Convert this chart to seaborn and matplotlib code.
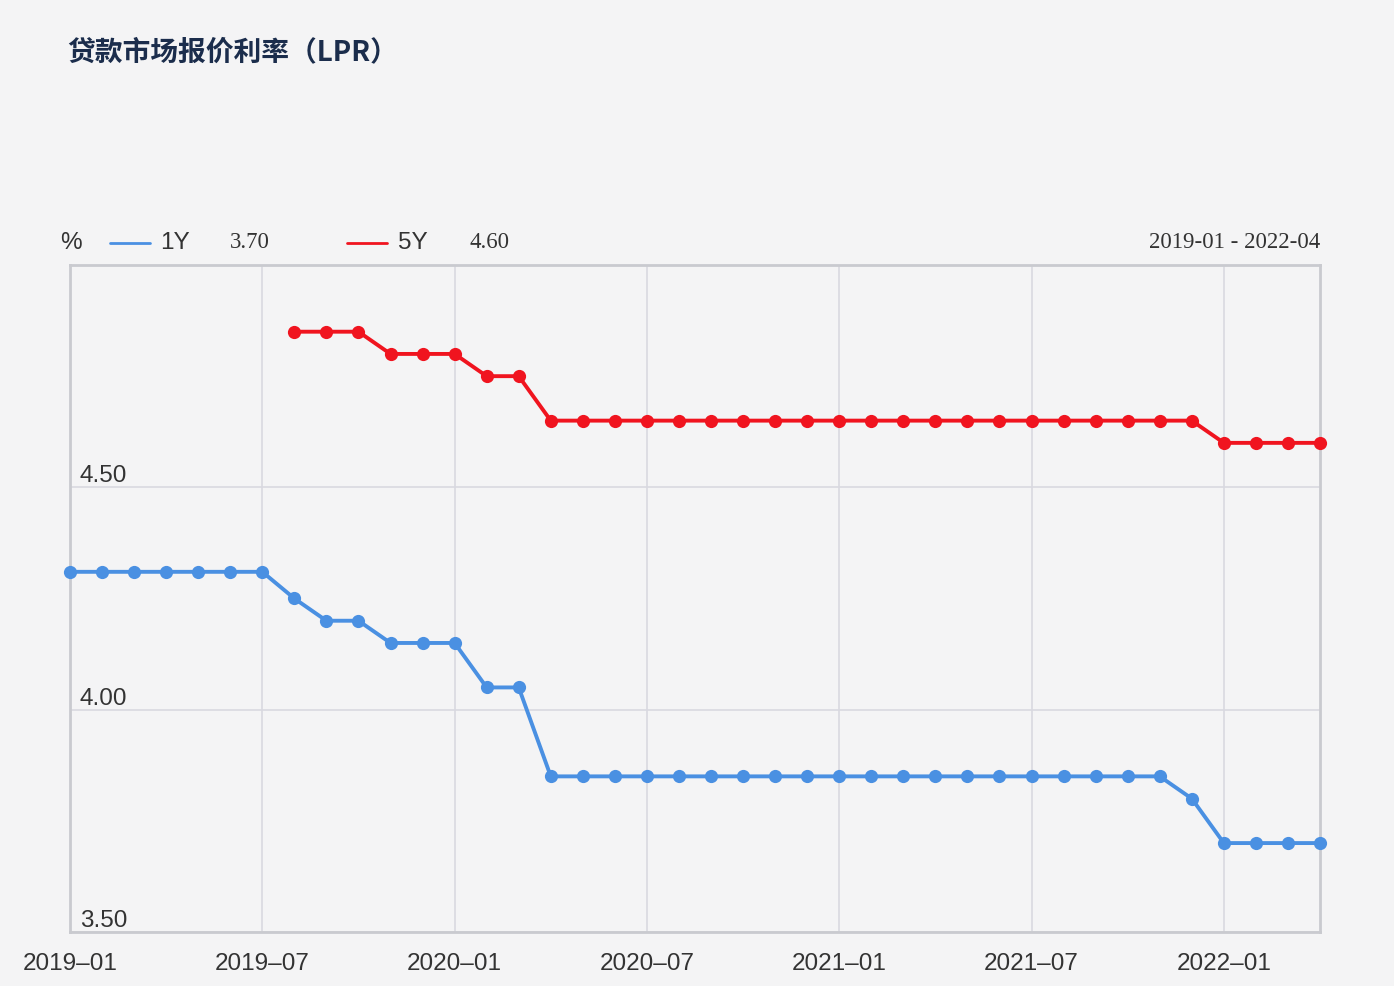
import numpy as np
import pandas as pd
import matplotlib
matplotlib.use('Agg')
import matplotlib.pyplot as plt
import seaborn as sns
from matplotlib.lines import Line2D

# monthly LPR quotes, 2019-01 .. 2022-04
months = list(pd.period_range('2019-01', '2022-04', freq='M').strftime('%Y-%m'))
lpr_1y = [4.31] * 7 + [4.25, 4.20, 4.20, 4.15, 4.15, 4.15, 4.05, 4.05] + [3.85] * 20 + [3.80] + [3.70] * 4
lpr_5y = [np.nan] * 7 + [4.85, 4.85, 4.85, 4.80, 4.80, 4.80, 4.75, 4.75] + [4.65] * 21 + [4.60] * 4
series_names = ['1Y', '5Y']
colors = ['#4a90e2', '#f0141f']
xtick_every = 6
yticks = [3.5, 4.0, 4.5]

df = pd.DataFrame({'month': months, 'idx': range(len(months)), '1Y': lpr_1y, '5Y': lpr_5y})
long_df = df.melt(id_vars=['month', 'idx'], value_vars=series_names, var_name='term', value_name='rate').dropna()

sns.set_style('white')
plt.rcParams['font.family'] = ['Liberation Sans', 'Noto Sans CJK SC', 'DejaVu Sans']

bg = '#f4f4f5'
fig = plt.figure(figsize=(13.94, 9.86), dpi=100, facecolor=bg)
ax = fig.add_axes([70 / 1394, 1 - 932 / 986, 1250 / 1394, 667 / 986])
ax.set_facecolor(bg)

sns.lineplot(data=long_df, x='idx', y='rate', hue='term', hue_order=series_names,
             palette=colors, marker='o', markersize=9.5, markeredgewidth=0,
             linewidth=2.8, legend=False, ax=ax, clip_on=False, zorder=3)

ax.set_xlim(0, len(months) - 1)
ax.set_ylim(3.5, 5.0)
xt = list(range(0, len(months), xtick_every))
ax.set_xticks(xt)
ax.set_xticklabels([months[i].replace('-', '\u2013') for i in xt])
ax.set_yticks(yticks)
ax.set_yticklabels(['%.2f' % v for v in yticks])
ax.set_xlabel('')
ax.set_ylabel('')

ax.grid(True, color='#d9d9e0', linewidth=1.2)
ax.set_axisbelow(True)
for s in ax.spines.values():
    s.set_color('#c9cacf')
    s.set_linewidth(2)

ax.tick_params(axis='x', length=0, pad=15, labelsize=17.5, labelcolor='#333333')
ax.tick_params(axis='y', length=0, pad=-7, labelsize=17.5, labelcolor='#333333')
for lbl in ax.get_yticklabels():
    lbl.set_horizontalalignment('left')
    lbl.set_verticalalignment('bottom')

# title
fig.text(67 / 1394, 1 - 52 / 986, '贷款市场报价利率（LPR）', fontsize=20, fontweight='heavy',
         color='#1b2d4c', va='center', ha='left', family=['Noto Sans CJK SC', 'DejaVu Sans'])

# legend row
ly = 1 - 243 / 986
fig.text(60 / 1394, ly, '%', fontsize=17.5, color='#333333', va='center', ha='left')
leg_x = [(110, 160, 230), (347, 398, 470)]
last_vals = [lpr_1y[-1], lpr_5y[-1]]
for (x0, xt0, xv), name, c, v in zip(leg_x, series_names, colors, last_vals):
    fig.add_artist(Line2D([x0 / 1394, (x0 + 40) / 1394], [ly, ly], color=c, linewidth=2))
    fig.text(xt0 / 1394, ly, name, fontsize=17.5, color='#333333', va='center', ha='left')
    fig.text(xv / 1394, ly, '%.2f' % v, fontsize=16.5, color='#333333', va='center', ha='left',
             family='Liberation Serif')
fig.text(1320 / 1394, ly, '%s - %s' % (months[0], months[-1]), fontsize=16.5, color='#333333',
         va='center', ha='right', family='Liberation Serif')

plt.savefig('out.png', dpi=100, facecolor=bg)
